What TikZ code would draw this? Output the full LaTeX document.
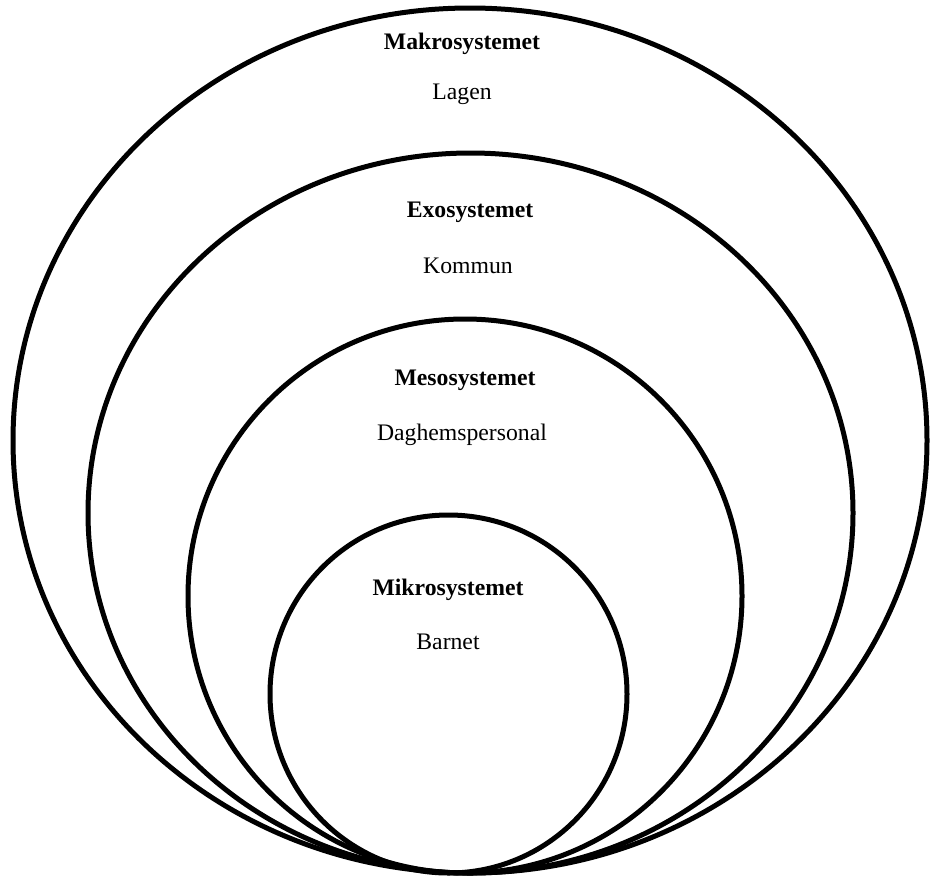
\documentclass[tikz,border=0pt]{standalone}
\usepackage{fontspec}
\setmainfont{Liberation Serif}
\begin{document}
\begin{tikzpicture}[x=1pt,y=-1pt,
  ring/.style={draw=black,line width=5pt},
  title/.style={font=\fontsize{23.7}{26}\selectfont\bfseries,inner sep=0pt},
  sub/.style={font=\fontsize{23.7}{26}\selectfont,inner sep=0pt}]
\useasboundingbox (0,0) rectangle (931,879);
\draw[ring] (470,440.5) ellipse [x radius=457, y radius=432.5];
\draw[ring] (470.5,513) ellipse [x radius=382.5, y radius=360];
\draw[ring] (465,596) ellipse [x radius=277, y radius=277];
\draw[ring] (448.5,694) ellipse [x radius=178.5, y radius=179];
\node[title] (makro) at (462,44) {Makrosystemet};
\node[sub] (lagen) at (462,94) {Lagen};
\node[title] (exo) at (470,212) {Exosystemet};
\node[sub] (kommun) at (468,266) {Kommun};
\node[title] (meso) at (465,380) {Mesosystemet};
\node[sub] (dag) at (462,435) {Daghemspersonal};
\node[title] (mikro) at (448,590) {Mikrosystemet};
\node[sub] (barnet) at (448,642) {Barnet};
\end{tikzpicture}
\end{document}
